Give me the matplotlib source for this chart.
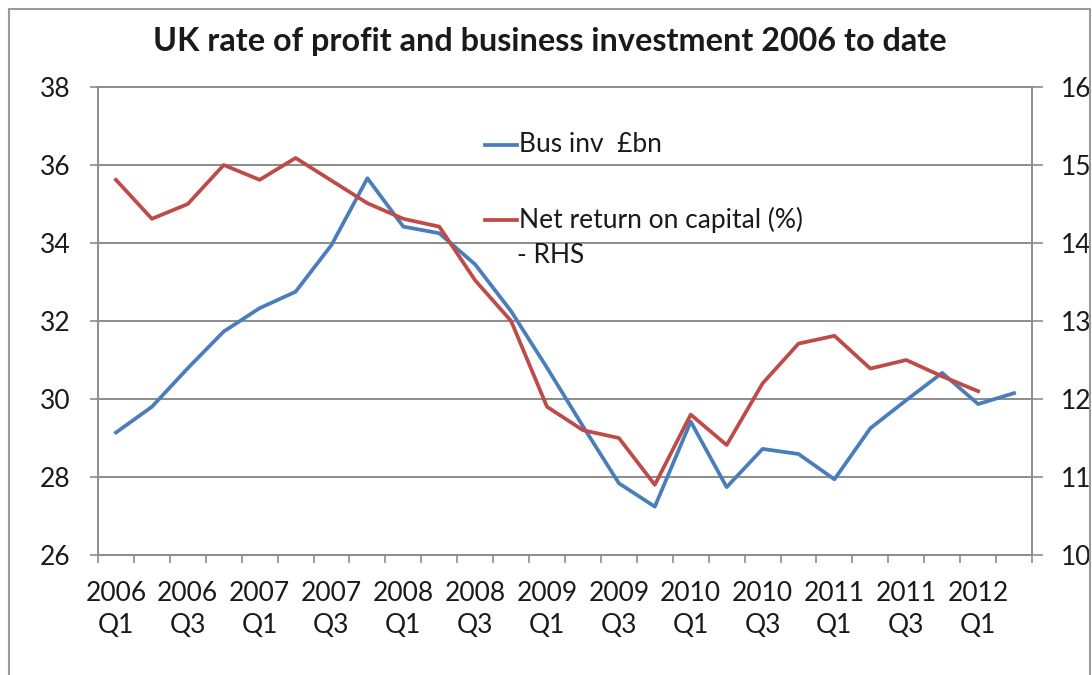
#!/usr/bin/env python3

import matplotlib
matplotlib.use("Agg")
import matplotlib.pyplot as plt
import matplotlib.patches as patches
from matplotlib.lines import Line2D
import numpy as np

# quarterly data, 2006 Q1 .. 2012 Q2
quarters = [f"{y} Q{q}" for y in range(2006, 2013) for q in range(1, 5)][:26]
bus_inv = [29.14, 29.8, 30.79, 31.73, 32.33, 32.75, 33.95, 35.66, 34.42, 34.25,
           33.45, 32.25, 30.8, 29.3, 27.84, 27.24, 29.42, 27.74, 28.72, 28.59,
           27.94, 29.25, 29.97, 30.67, 29.87, 30.15]
net_return = [14.81, 14.31, 14.5, 15.0, 14.81, 15.09, 14.8, 14.51, 14.31, 14.21,
              13.52, 13.0, 11.9, 11.6, 11.5, 10.9, 11.8, 11.41, 12.2, 12.71,
              12.81, 12.39, 12.5, 12.29, 12.1]
tick_labels = [f"{q.split()[0]}\n{q.split()[1]}" for q in quarters[::2]]

plt.rcParams['font.family'] = ['Lato', 'DejaVu Sans']

blue = '#4a7ebb'
red = '#be4b48'
grey = '#8c8c8c'
txt = '#1a1a1a'

fig = plt.figure()
fig.set_size_inches(10.92, 6.75)
W, H = 1092, 675
ax = fig.add_axes([98 / W, 1 - 555 / H, (1032 - 98) / W, (555 - 87) / H])
ax2 = ax.twinx()

x = np.arange(len(quarters))
ax.plot(x, bus_inv, color=blue, lw=2.7, solid_joinstyle='round', zorder=3)
ax2.plot(x[:len(net_return)], net_return, color=red, lw=2.7, solid_joinstyle='round', zorder=3)

ax.set_xlim(-0.5, len(quarters) - 0.5)
ax.set_ylim(26, 38)
ax2.set_ylim(10, 16)
ax.set_yticks(np.arange(26, 39, 2))
ax2.set_yticks(np.arange(10, 17, 1))

ax.set_xticks(x[::2], tick_labels)
ax.set_xticks(np.arange(-0.5, len(quarters), 1), minor=True)
ax.tick_params(axis='x', which='major', length=0, pad=19, labelsize=19,
               labelcolor=txt)
ax.tick_params(axis='x', which='minor', length=6, width=1.2, color=grey,
               direction='out')
for lab in ax.get_xticklabels():
    lab.set_linespacing(1.35)
ax.tick_params(axis='y', length=6, width=1.2, color=grey, pad=14,
               labelsize=19, labelcolor=txt)
ax2.tick_params(axis='y', length=8, width=1.2, color=grey, pad=13,
                labelsize=19, labelcolor=txt)

ax.grid(True, axis='y', color=grey, lw=1.4)
ax.set_axisbelow(True)
for a in (ax, ax2):
    a.spines['top'].set_visible(False)
    for s in ('left', 'right', 'bottom'):
        a.spines[s].set_color(grey)
        a.spines[s].set_linewidth(1.2)

# extend the top gridline a bit past the axes, like the ticks
ax.plot([-0.5, len(quarters) - 0.5], [38, 38], color=grey, lw=1.4,
        clip_on=False, zorder=1)

# legend drawn by hand (Excel style: handle next to first line only)
for yy, col in ((145, blue), (220, red)):
    fig.add_artist(Line2D([485 / W, 517 / W], [1 - yy / H, 1 - yy / H],
                          color=col, lw=2.7, transform=fig.transFigure))
fig.text(519 / W, 1 - 152 / H, "Bus inv  \u00a3bn", fontsize=19, color=txt,
         va='baseline')
fig.text(519 / W, 1 - 228 / H, "Net return on capital (%)", fontsize=19,
         color=txt, va='baseline')
fig.text(517 / W, 1 - 263 / H, "- RHS", fontsize=19, color=txt, va='baseline')

fig.text(550 / W, 1 - 42 / H, "UK rate of profit and business investment 2006 to date",
         ha='center', va='center', fontsize=23.3, fontweight='bold', color=txt)

fig.patches.append(patches.Rectangle((9 / W, -0.05), (1090 - 9) / W, 1.05 - 9 / H,
                                     transform=fig.transFigure, fill=False,
                                     edgecolor='#9a9a9a', lw=1.5))

fig.savefig('out.png', dpi=100)
